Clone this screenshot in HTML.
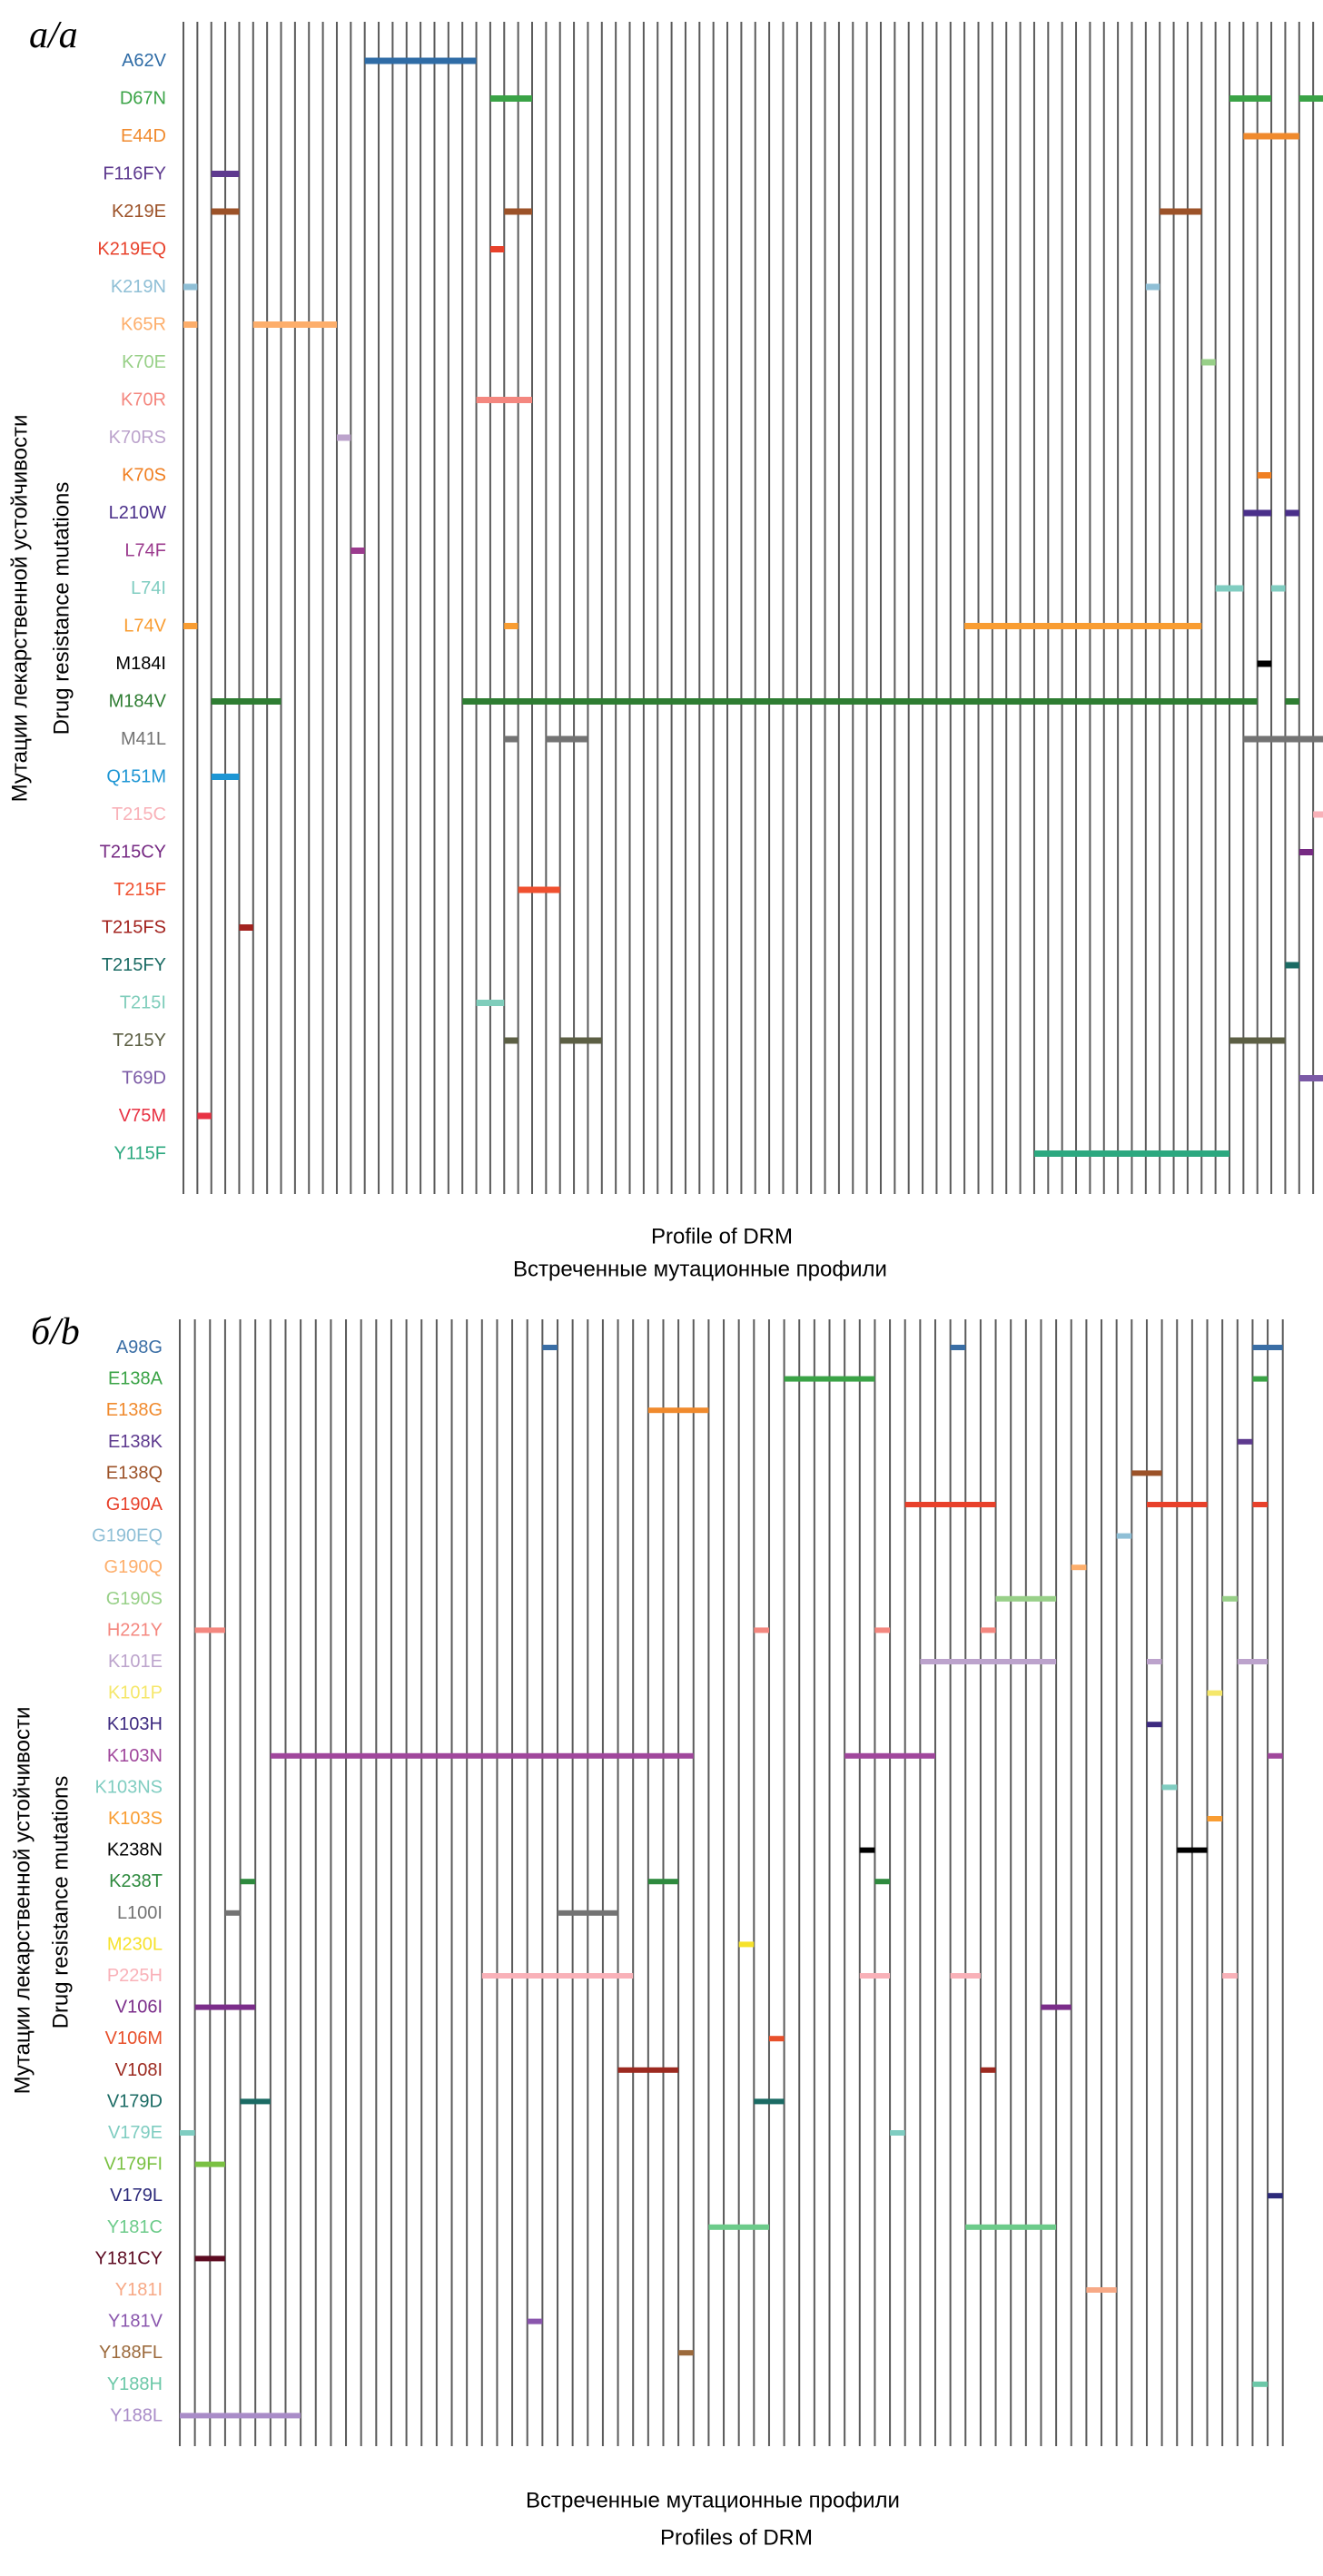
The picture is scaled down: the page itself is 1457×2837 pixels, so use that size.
<!DOCTYPE html>
<html><head><meta charset="utf-8"><style>
html,body{margin:0;padding:0;background:#fff}
svg{display:block}
text{font-family:"Liberation Sans",Arial,sans-serif}
.lab{font-size:20px;text-anchor:end;dominant-baseline:central}
.ax{font-size:24px;text-anchor:middle;dominant-baseline:central;fill:#000}
.pl{font-family:"Liberation Serif",serif;font-style:italic;font-size:42px;fill:#000}
</style></head><body>
<svg width="1457" height="2837" viewBox="0 0 1457 2837" xmlns="http://www.w3.org/2000/svg">
<defs>
<pattern id="pa" patternUnits="userSpaceOnUse" x="201" y="0" width="15.36" height="10"><rect x="0" y="0" width="2" height="10" fill="#5a5a5a"/></pattern>
<pattern id="pb" patternUnits="userSpaceOnUse" x="197" y="0" width="16.64" height="10"><rect x="0" y="0" width="2" height="10" fill="#5a5a5a"/></pattern>
</defs>
<rect width="1457" height="2837" fill="#fff"/>

<!-- Panel a -->
<text class="pl" x="32" y="52">a/a</text>
<rect x="201" y="24" width="1247" height="1291" fill="url(#pa)"/>
<g transform="translate(202,0) scale(15.36,1)">
<rect x="13" y="63.5" width="8" height="7" fill="#2f6ca6"/>
<rect x="22" y="105" width="3" height="7" fill="#3aa346"/><rect x="75" y="105" width="3" height="7" fill="#3aa346"/><rect x="80" y="105" width="2" height="7" fill="#3aa346"/>
<rect x="76" y="146.5" width="4" height="7" fill="#f08a2d"/>
<rect x="2" y="188" width="2" height="7" fill="#5e3a8f"/>
<rect x="2" y="229.5" width="2" height="7" fill="#9c5228"/><rect x="23" y="229.5" width="2" height="7" fill="#9c5228"/><rect x="70" y="229.5" width="3" height="7" fill="#9c5228"/>
<rect x="22" y="271" width="1" height="7" fill="#e8412b"/>
<rect x="0" y="312.5" width="1" height="7" fill="#8fbfd6"/><rect x="69" y="312.5" width="1" height="7" fill="#8fbfd6"/>
<rect x="0" y="354" width="1" height="7" fill="#fdae6b"/><rect x="5" y="354" width="6" height="7" fill="#fdae6b"/>
<rect x="73" y="395.5" width="1" height="7" fill="#98d088"/>
<rect x="21" y="437" width="4" height="7" fill="#f4877f"/>
<rect x="11" y="478.5" width="1" height="7" fill="#bca3cc"/>
<rect x="77" y="520" width="1" height="7" fill="#f07f22"/>
<rect x="76" y="561.5" width="2" height="7" fill="#4a2f8a"/><rect x="79" y="561.5" width="1" height="7" fill="#4a2f8a"/>
<rect x="12" y="603" width="1" height="7" fill="#9b3b8e"/>
<rect x="74" y="644.5" width="2" height="7" fill="#80cdc1"/><rect x="78" y="644.5" width="1" height="7" fill="#80cdc1"/>
<rect x="0" y="686" width="1" height="7" fill="#f99d32"/><rect x="23" y="686" width="1" height="7" fill="#f99d32"/><rect x="56" y="686" width="17" height="7" fill="#f99d32"/>
<rect x="77" y="727.5" width="1" height="7" fill="#000"/>
<rect x="2" y="769" width="5" height="7" fill="#2e7d32"/><rect x="20" y="769" width="57" height="7" fill="#2e7d32"/><rect x="79" y="769" width="1" height="7" fill="#2e7d32"/>
<rect x="23" y="810.5" width="1" height="7" fill="#737373"/><rect x="26" y="810.5" width="3" height="7" fill="#737373"/><rect x="76" y="810.5" width="6" height="7" fill="#737373"/>
<rect x="2" y="852" width="2" height="7" fill="#1e96d4"/>
<rect x="81" y="893.5" width="1" height="7" fill="#f9b1b8"/>
<rect x="80" y="935" width="1" height="7" fill="#762a83"/>
<rect x="24" y="976.5" width="3" height="7" fill="#f0502f"/>
<rect x="4" y="1018" width="1" height="7" fill="#a3231f"/>
<rect x="79" y="1059.5" width="1" height="7" fill="#1b6b64"/>
<rect x="21" y="1101" width="2" height="7" fill="#7fcdbb"/>
<rect x="23" y="1142.5" width="1" height="7" fill="#5c5f44"/><rect x="27" y="1142.5" width="3" height="7" fill="#5c5f44"/><rect x="75" y="1142.5" width="4" height="7" fill="#5c5f44"/>
<rect x="80" y="1184" width="2" height="7" fill="#7b5aa6"/>
<rect x="1" y="1225.5" width="1" height="7" fill="#e83243"/>
<rect x="61" y="1267" width="14" height="7" fill="#2ca87f"/>
</g>
<g class="lab">
<text class="lab" x="183" y="67" fill="#2f6ca6">A62V</text>
<text class="lab" x="183" y="108.5" fill="#3aa346">D67N</text>
<text class="lab" x="183" y="150" fill="#f08a2d">E44D</text>
<text class="lab" x="183" y="191.5" fill="#5e3a8f">F116FY</text>
<text class="lab" x="183" y="233" fill="#9c5228">K219E</text>
<text class="lab" x="183" y="274.5" fill="#e8412b">K219EQ</text>
<text class="lab" x="183" y="316" fill="#8fbfd6">K219N</text>
<text class="lab" x="183" y="357.5" fill="#fdae6b">K65R</text>
<text class="lab" x="183" y="399" fill="#98d088">K70E</text>
<text class="lab" x="183" y="440.5" fill="#f4877f">K70R</text>
<text class="lab" x="183" y="482" fill="#bca3cc">K70RS</text>
<text class="lab" x="183" y="523.5" fill="#f07f22">K70S</text>
<text class="lab" x="183" y="565" fill="#4a2f8a">L210W</text>
<text class="lab" x="183" y="606.5" fill="#9b3b8e">L74F</text>
<text class="lab" x="183" y="648" fill="#80cdc1">L74I</text>
<text class="lab" x="183" y="689.5" fill="#f99d32">L74V</text>
<text class="lab" x="183" y="731" fill="#000">M184I</text>
<text class="lab" x="183" y="772.5" fill="#2e7d32">M184V</text>
<text class="lab" x="183" y="814" fill="#737373">M41L</text>
<text class="lab" x="183" y="855.5" fill="#1e96d4">Q151M</text>
<text class="lab" x="183" y="897" fill="#f9b1b8">T215C</text>
<text class="lab" x="183" y="938.5" fill="#762a83">T215CY</text>
<text class="lab" x="183" y="980" fill="#f0502f">T215F</text>
<text class="lab" x="183" y="1021.5" fill="#a3231f">T215FS</text>
<text class="lab" x="183" y="1063" fill="#1b6b64">T215FY</text>
<text class="lab" x="183" y="1104.5" fill="#7fcdbb">T215I</text>
<text class="lab" x="183" y="1146" fill="#5c5f44">T215Y</text>
<text class="lab" x="183" y="1187.5" fill="#7b5aa6">T69D</text>
<text class="lab" x="183" y="1229" fill="#e83243">V75M</text>
<text class="lab" x="183" y="1270.5" fill="#2ca87f">Y115F</text>
</g>
<text class="ax" transform="translate(22,670) rotate(-90)">Мутации лекарственной устойчивости</text>
<text class="ax" transform="translate(68,670) rotate(-90)">Drug resistance mutations</text>
<text class="ax" x="795" y="1362">Profile of DRM</text>
<text class="ax" x="771" y="1398">Встреченные мутационные профили</text>

<!-- Panel b -->
<text class="pl" x="34" y="1480">б/b</text>
<rect x="197" y="1453" width="1217" height="1241" fill="url(#pb)"/>
<g transform="translate(198,0) scale(16.64,1)">
<rect x="24" y="1481" width="1" height="6" fill="#3a6ea5"/><rect x="51" y="1481" width="1" height="6" fill="#3a6ea5"/><rect x="71" y="1481" width="2" height="6" fill="#3a6ea5"/>
<rect x="40" y="1515.6" width="6" height="6" fill="#3aa346"/><rect x="71" y="1515.6" width="1" height="6" fill="#3aa346"/>
<rect x="31" y="1550.2" width="4" height="6" fill="#f08a2d"/>
<rect x="70" y="1584.8" width="1" height="6" fill="#5e3a8f"/>
<rect x="63" y="1619.4" width="2" height="6" fill="#9c5228"/>
<rect x="48" y="1654" width="6" height="6" fill="#e8412b"/><rect x="64" y="1654" width="4" height="6" fill="#e8412b"/><rect x="71" y="1654" width="1" height="6" fill="#e8412b"/>
<rect x="62" y="1688.6" width="1" height="6" fill="#8fbfd6"/>
<rect x="59" y="1723.2" width="1" height="6" fill="#fdae6b"/>
<rect x="54" y="1757.8" width="4" height="6" fill="#98d088"/><rect x="69" y="1757.8" width="1" height="6" fill="#98d088"/>
<rect x="1" y="1792.4" width="2" height="6" fill="#f4877f"/><rect x="38" y="1792.4" width="1" height="6" fill="#f4877f"/><rect x="46" y="1792.4" width="1" height="6" fill="#f4877f"/><rect x="53" y="1792.4" width="1" height="6" fill="#f4877f"/>
<rect x="49" y="1827" width="9" height="6" fill="#bca3cc"/><rect x="64" y="1827" width="1" height="6" fill="#bca3cc"/><rect x="70" y="1827" width="2" height="6" fill="#bca3cc"/>
<rect x="68" y="1861.6" width="1" height="6" fill="#f5e76a"/>
<rect x="64" y="1896.2" width="1" height="6" fill="#3d2a80"/>
<rect x="6" y="1930.8" width="28" height="6" fill="#a0479c"/><rect x="44" y="1930.8" width="6" height="6" fill="#a0479c"/><rect x="72" y="1930.8" width="1" height="6" fill="#a0479c"/>
<rect x="65" y="1965.4" width="1" height="6" fill="#80cdc1"/>
<rect x="68" y="2000" width="1" height="6" fill="#f99d32"/>
<rect x="45" y="2034.6" width="1" height="6" fill="#000"/><rect x="66" y="2034.6" width="2" height="6" fill="#000"/>
<rect x="4" y="2069.2" width="1" height="6" fill="#2e8a3e"/><rect x="31" y="2069.2" width="2" height="6" fill="#2e8a3e"/><rect x="46" y="2069.2" width="1" height="6" fill="#2e8a3e"/>
<rect x="3" y="2103.8" width="1" height="6" fill="#737373"/><rect x="25" y="2103.8" width="4" height="6" fill="#737373"/>
<rect x="37" y="2138.4" width="1" height="6" fill="#f6e22a"/>
<rect x="20" y="2173" width="10" height="6" fill="#f9b1b8"/><rect x="45" y="2173" width="2" height="6" fill="#f9b1b8"/><rect x="51" y="2173" width="2" height="6" fill="#f9b1b8"/><rect x="69" y="2173" width="1" height="6" fill="#f9b1b8"/>
<rect x="1" y="2207.6" width="4" height="6" fill="#7b2d8a"/><rect x="57" y="2207.6" width="2" height="6" fill="#7b2d8a"/>
<rect x="39" y="2242.2" width="1" height="6" fill="#e8502b"/>
<rect x="29" y="2276.8" width="4" height="6" fill="#9c2a20"/><rect x="53" y="2276.8" width="1" height="6" fill="#9c2a20"/>
<rect x="4" y="2311.4" width="2" height="6" fill="#1b6b64"/><rect x="38" y="2311.4" width="2" height="6" fill="#1b6b64"/>
<rect x="0" y="2346" width="1" height="6" fill="#7fcdc1"/><rect x="47" y="2346" width="1" height="6" fill="#7fcdc1"/>
<rect x="1" y="2380.6" width="2" height="6" fill="#7ac143"/>
<rect x="72" y="2415.2" width="1" height="6" fill="#2c2a7a"/>
<rect x="35" y="2449.8" width="4" height="6" fill="#6ccb8a"/><rect x="52" y="2449.8" width="6" height="6" fill="#6ccb8a"/>
<rect x="1" y="2484.4" width="2" height="6" fill="#5c0a20"/>
<rect x="60" y="2519" width="2" height="6" fill="#f7a986"/>
<rect x="23" y="2553.6" width="1" height="6" fill="#8a56ad"/>
<rect x="33" y="2588.2" width="1" height="6" fill="#9c6a3c"/>
<rect x="71" y="2622.8" width="1" height="6" fill="#6cc8a8"/>
<rect x="0" y="2657.4" width="8" height="6" fill="#a98cc8"/>
</g>
<g>
<text class="lab" x="179" y="1484" fill="#3a6ea5">A98G</text>
<text class="lab" x="179" y="1518.6" fill="#3aa346">E138A</text>
<text class="lab" x="179" y="1553.2" fill="#f08a2d">E138G</text>
<text class="lab" x="179" y="1587.8" fill="#5e3a8f">E138K</text>
<text class="lab" x="179" y="1622.4" fill="#9c5228">E138Q</text>
<text class="lab" x="179" y="1657" fill="#e8412b">G190A</text>
<text class="lab" x="179" y="1691.6" fill="#8fbfd6">G190EQ</text>
<text class="lab" x="179" y="1726.2" fill="#fdae6b">G190Q</text>
<text class="lab" x="179" y="1760.8" fill="#98d088">G190S</text>
<text class="lab" x="179" y="1795.4" fill="#f4877f">H221Y</text>
<text class="lab" x="179" y="1830" fill="#bca3cc">K101E</text>
<text class="lab" x="179" y="1864.6" fill="#f5e76a">K101P</text>
<text class="lab" x="179" y="1899.2" fill="#3d2a80">K103H</text>
<text class="lab" x="179" y="1933.8" fill="#a0479c">K103N</text>
<text class="lab" x="179" y="1968.4" fill="#80cdc1">K103NS</text>
<text class="lab" x="179" y="2003" fill="#f99d32">K103S</text>
<text class="lab" x="179" y="2037.6" fill="#000">K238N</text>
<text class="lab" x="179" y="2072.2" fill="#2e8a3e">K238T</text>
<text class="lab" x="179" y="2106.8" fill="#737373">L100I</text>
<text class="lab" x="179" y="2141.4" fill="#f6e22a">M230L</text>
<text class="lab" x="179" y="2176" fill="#f9b1b8">P225H</text>
<text class="lab" x="179" y="2210.6" fill="#7b2d8a">V106I</text>
<text class="lab" x="179" y="2245.2" fill="#e8502b">V106M</text>
<text class="lab" x="179" y="2279.8" fill="#9c2a20">V108I</text>
<text class="lab" x="179" y="2314.4" fill="#1b6b64">V179D</text>
<text class="lab" x="179" y="2349" fill="#7fcdc1">V179E</text>
<text class="lab" x="179" y="2383.6" fill="#7ac143">V179FI</text>
<text class="lab" x="179" y="2418.2" fill="#2c2a7a">V179L</text>
<text class="lab" x="179" y="2452.8" fill="#6ccb8a">Y181C</text>
<text class="lab" x="179" y="2487.4" fill="#5c0a20">Y181CY</text>
<text class="lab" x="179" y="2522" fill="#f7a986">Y181I</text>
<text class="lab" x="179" y="2556.6" fill="#8a56ad">Y181V</text>
<text class="lab" x="179" y="2591.2" fill="#9c6a3c">Y188FL</text>
<text class="lab" x="179" y="2625.8" fill="#6cc8a8">Y188H</text>
<text class="lab" x="179" y="2660.4" fill="#a98cc8">Y188L</text>
</g>
<text class="ax" transform="translate(25,2093) rotate(-90)">Мутации лекарственной устойчивости</text>
<text class="ax" transform="translate(67,2095) rotate(-90)">Drug resistance mutations</text>
<text class="ax" x="785" y="2754">Встреченные мутационные профили</text>
<text class="ax" x="811" y="2795">Profiles of DRM</text>
</svg>
</body></html>
